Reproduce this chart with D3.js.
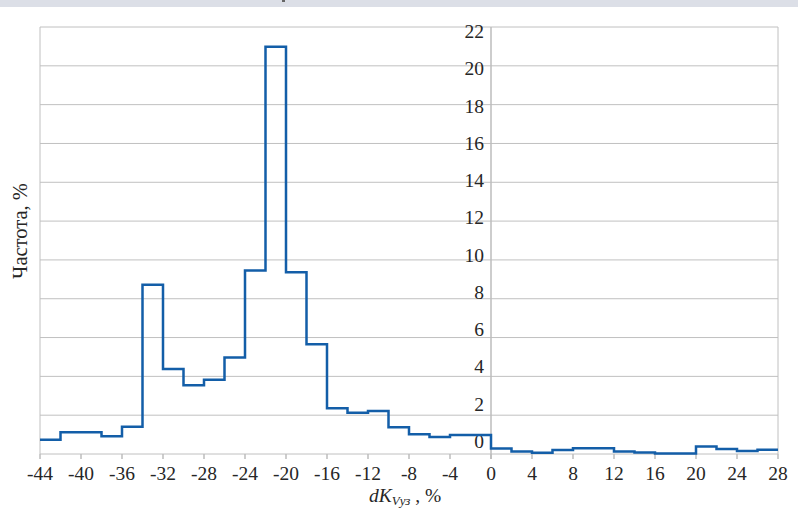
<!DOCTYPE html>
<html>
<head>
<meta charset="utf-8">
<script src="https://cdn.jsdelivr.net/npm/d3@7"></script>
<style>
  body { margin: 0; background: #fff; }
  text { font-family: "Liberation Serif", "DejaVu Serif", serif; fill: #262626; }
</style>
</head>
<body>
<script>
// histogram bins (left edge of every 2 % bin) and frequency, %
var binLeft = [-44, -42, -40, -38, -36, -34, -32, -30, -28, -26, -24, -22, -20, -18, -16, -14, -12, -10,
               -8, -6, -4, -2, 0, 2, 4, 6, 8, 10, 12, 14, 16, 18, 20, 22, 24, 26];
var freq = [0.74, 1.12, 1.12, 0.91, 1.40, 8.72, 4.38, 3.54, 3.83, 4.97, 9.46, 20.98, 9.36, 5.65, 2.36, 2.12, 2.21, 1.38,
            1.02, 0.88, 0.98, 0.98, 0.28, 0.13, 0.07, 0.21, 0.29, 0.29, 0.13, 0.08, 0.03, 0.03, 0.39, 0.26, 0.16, 0.22];
var xTicks = d3.range(-44, 29, 4);
var yTicks = d3.range(0, 23, 2);

var W = 798, H = 512;
var svg = d3.select("body").append("svg").attr("width", W).attr("height", H);

// strip of the page above the chart
svg.append("rect").attr("x", 0).attr("y", 0).attr("width", W).attr("height", 7).style("fill", "#dcdfe7");
svg.append("rect").attr("x", 282).attr("y", 0).attr("width", 3).attr("height", 2).style("fill", "#666");

var x = d3.scaleLinear().domain([-44, 28]).range([40, 778]);
var y = d3.scaleLinear().domain([0, 22]).range([454, 27]);
// the value labels in the original drift slightly off the gridlines
var yLab = d3.scaleLinear().domain([0, 22]).range([448, 38]);

// horizontal gridlines
svg.selectAll("line.grid").data(yTicks).enter().append("line")
  .attr("class", "grid")
  .attr("x1", x(-44)).attr("x2", x(28))
  .attr("y1", function (d) { return y(d); }).attr("y2", function (d) { return y(d); })
  .style("stroke", "#c0c0c0").style("stroke-width", 1);

// frame left / right
[ -44, 28 ].forEach(function (v) {
  svg.append("line").attr("x1", x(v)).attr("x2", x(v)).attr("y1", y(22)).attr("y2", y(0))
    .style("stroke", "#c0c0c0").style("stroke-width", 1);
});

// y axis through zero
svg.append("line").attr("x1", x(0)).attr("x2", x(0)).attr("y1", y(22)).attr("y2", y(0) + 5)
  .style("stroke", "#bdbdbd").style("stroke-width", 1.5);

// x axis ticks
svg.selectAll("line.xt").data(xTicks).enter().append("line")
  .attr("class", "xt")
  .attr("x1", function (d) { return x(d); }).attr("x2", function (d) { return x(d); })
  .attr("y1", y(0)).attr("y2", y(0) + 5)
  .style("stroke", "#bdbdbd").style("stroke-width", 1.5);

svg.selectAll("text.xl").data(xTicks).enter().append("text")
  .attr("class", "xl")
  .attr("x", function (d) { return x(d); }).attr("y", 480)
  .attr("text-anchor", "middle").style("font-size", "19.5px")
  .text(function (d) { return d; });

svg.selectAll("text.yl").data(yTicks).enter().append("text")
  .attr("class", "yl")
  .attr("x", x(0) - 7).attr("y", function (d) { return yLab(d); })
  .attr("text-anchor", "end").style("font-size", "19.5px")
  .text(function (d) { return d; });

// step line
var pts = binLeft.map(function (b, i) { return [b, freq[i]]; });
pts.push([28, freq[freq.length - 1]]);
var line = d3.line()
  .x(function (d) { return x(d[0]); })
  .y(function (d) { return y(d[1]); })
  .curve(d3.curveStepAfter);
svg.append("path").datum(pts).attr("d", line)
  .style("fill", "none").style("stroke", "#135ea8").style("stroke-width", 2.5);

// axis titles
svg.append("text").attr("transform", "translate(27,231) rotate(-90)")
  .attr("text-anchor", "middle").style("font-size", "20.5px").text("Частота, %");

var xt = svg.append("text").attr("x", 369).attr("y", 502).style("font-size", "19.5px");
xt.append("tspan").style("font-style", "italic").text("dK");
xt.append("tspan").style("font-style", "italic").style("font-size", "13px").attr("dy", 3).text("Vуз");
xt.append("tspan").attr("dy", -3).text(" , %");
</script>
</body>
</html>
